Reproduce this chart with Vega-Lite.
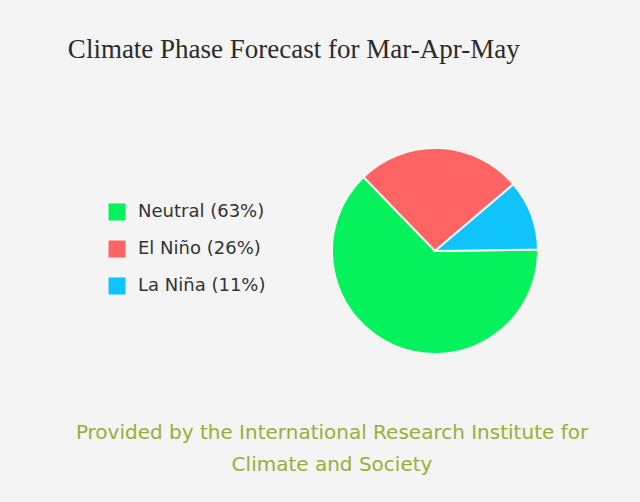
{
  "$schema": "https://vega.github.io/schema/vega-lite/v6.json",
  "background": "#f4f4f4",
  "padding": {"left": 67, "top": 36, "right": 52, "bottom": 30},
  "title": {
    "text": "Climate Phase Forecast for Mar-Apr-May",
    "anchor": "start",
    "font": "Liberation Serif",
    "fontSize": 27,
    "fontWeight": "normal",
    "color": "#2b2b2b",
    "offset": 80,
    "dx": -8
  },
  "config": {"view": {"stroke": null}},
  "vconcat": [
    {
      "width": 206,
      "height": 206,
      "title": {
        "text": ["Provided by the International Research Institute for", "Climate and Society"],
        "orient": "bottom",
        "anchor": "middle",
        "frame": "group",
        "dx": -103,
        "offset": 65,
        "font": "DejaVu Sans",
        "fontSize": 20,
        "fontWeight": "normal",
        "color": "#9aae38",
        "lineHeight": 32
      },
      "data": {
        "values": [
          {"phase": "Neutral", "label": "Neutral (63%)", "pct": 63},
          {"phase": "El Niño", "label": "El Niño (26%)", "pct": 26},
          {"phase": "La Niña", "label": "La Niña (11%)", "pct": 11}
        ]
      },
      "mark": {"type": "arc", "stroke": "#f4f4f4", "strokeWidth": 2},
      "encoding": {
        "theta": {
          "field": "pct",
          "type": "quantitative",
          "stack": true,
          "scale": {"range": [-0.768, 5.5152]}
        },
        "order": {"field": "label", "type": "nominal"},
        "color": {
          "field": "label",
          "type": "nominal",
          "scale": {
            "domain": ["Neutral (63%)", "El Niño (26%)", "La Niña (11%)"],
            "range": ["#05f25c", "#ff6464", "#0fc4fb"]
          },
          "legend": {
            "title": null,
            "orient": "none",
            "legendX": -224,
            "legendY": 55,
            "symbolType": "square",
            "symbolSize": 289,
            "symbolStrokeWidth": 0,
            "labelFont": "DejaVu Sans",
            "labelFontSize": 18,
            "labelColor": "#333333",
            "labelOffset": 12,
            "rowPadding": 19
          }
        }
      }
    }
  ]
}
